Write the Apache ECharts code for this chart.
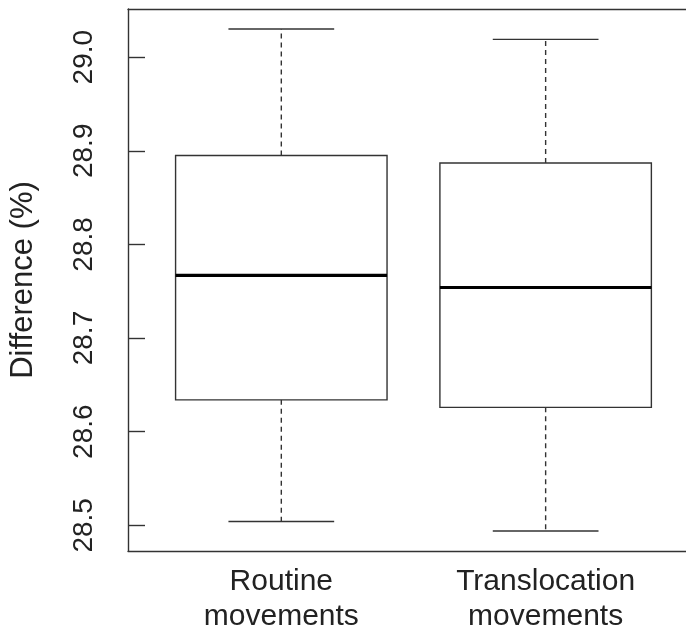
<!DOCTYPE html>
<html>
<head>
<meta charset="utf-8">
<script src="https://cdn.jsdelivr.net/npm/echarts@6/dist/echarts.min.js"></script>
<style>
  html, body { margin: 0; padding: 0; background: #fff; }
  #chart { width: 686px; height: 638px; }
</style>
</head>
<body>
<div id="chart"></div>
<script>
// Five-number summaries per group
const categories = ['Routine\nmovements', 'Translocation\nmovements'];
const lowerWhisker = [28.504, 28.494];
const lowerQuartile = [28.634, 28.626];
const medianValue = [28.767, 28.754];
const upperQuartile = [28.895, 28.887];
const upperWhisker = [29.030, 29.019];

// Tick labels on the value axis
const yTicks = [28.5, 28.6, 28.7, 28.8, 28.9, 29.0];

const rows = categories.map((c, i) => [
  i + 1, lowerWhisker[i], lowerQuartile[i], medianValue[i], upperQuartile[i], upperWhisker[i]
]);

// Axis extent padded 4% beyond the data range
const dataLo = Math.min(...lowerWhisker);
const dataHi = Math.max(...upperWhisker);
const pad = (dataHi - dataLo) * 0.04;

const FONT = 'Liberation Sans, Arial, sans-serif';
const INK = '#222';
const LINE = '#333';
const LW = 1.4;

const chart = echarts.init(document.getElementById('chart'), null, { renderer: 'canvas' });

const frameAxis = {
  type: 'value',
  min: 0.42, max: 2.531,
  splitLine: { show: false },
  axisTick: { show: false }
};

chart.setOption({
  animation: false,
  backgroundColor: '#fff',
  grid: { left: 128, top: 9, right: 0, height: 542 },
  xAxis: [
    Object.assign({}, frameAxis, {
      position: 'bottom',
      axisLine: { show: true, onZero: false, lineStyle: { color: LINE, width: LW } },
      axisLabel: {
        customValues: [1, 2],
        formatter: v => categories[Math.round(v) - 1],
        fontFamily: FONT, fontSize: 30, color: INK, lineHeight: 35, margin: 13
      }
    }),
    // top edge of the plot frame
    Object.assign({}, frameAxis, {
      position: 'top',
      axisLine: { show: true, onZero: false, lineStyle: { color: LINE, width: LW } },
      axisLabel: { show: false }
    })
  ],
  yAxis: {
    type: 'value',
    min: dataLo - pad, max: dataHi + pad,
    name: 'Difference (%)',
    nameLocation: 'middle',
    nameGap: 89,
    nameRotate: 90,
    nameTextStyle: { fontFamily: FONT, fontSize: 31, color: INK },
    splitLine: { show: false },
    axisLine: { show: true, onZero: false, lineStyle: { color: LINE, width: LW } },
    axisTick: { show: true, inside: true, length: 17, customValues: yTicks, lineStyle: { color: LINE, width: LW } },
    axisLabel: {
      customValues: yTicks,
      rotate: 90,
      formatter: v => v.toFixed(1),
      fontFamily: FONT, fontSize: 28, color: INK, margin: 30
    }
  },
  series: [{
    type: 'custom',
    xAxisIndex: 0,
    data: rows,
    encode: { x: 0, y: [1, 2, 3, 4, 5] },
    renderItem: function (params, api) {
      const x = api.value(0);
      const half = 0.4, cap = 0.2;
      const pLo = api.coord([x, api.value(1)]);
      const pQ1 = api.coord([x, api.value(2)]);
      const pMed = api.coord([x, api.value(3)]);
      const pQ3 = api.coord([x, api.value(4)]);
      const pHi = api.coord([x, api.value(5)]);
      const xl = api.coord([x - half, 0])[0];
      const xr = api.coord([x + half, 0])[0];
      const cl = api.coord([x - cap, 0])[0];
      const cr = api.coord([x + cap, 0])[0];
      const solid = { stroke: LINE, lineWidth: LW, fill: null };
      const dashed = { stroke: LINE, lineWidth: LW, lineDash: [5, 4], fill: null };
      return {
        type: 'group',
        children: [
          { type: 'line', shape: { x1: pQ3[0], y1: pQ3[1], x2: pHi[0], y2: pHi[1] }, style: dashed },
          { type: 'line', shape: { x1: pQ1[0], y1: pQ1[1], x2: pLo[0], y2: pLo[1] }, style: dashed },
          { type: 'line', shape: { x1: cl, y1: pHi[1], x2: cr, y2: pHi[1] }, style: solid },
          { type: 'line', shape: { x1: cl, y1: pLo[1], x2: cr, y2: pLo[1] }, style: solid },
          { type: 'rect', shape: { x: xl, y: pQ3[1], width: xr - xl, height: pQ1[1] - pQ3[1] },
            style: { stroke: LINE, lineWidth: LW, fill: '#fff' } },
          { type: 'line', shape: { x1: xl, y1: pMed[1], x2: xr, y2: pMed[1] },
            style: { stroke: '#000', lineWidth: 3.2 } }
        ]
      };
    }
  }]
});
</script>
</body>
</html>
